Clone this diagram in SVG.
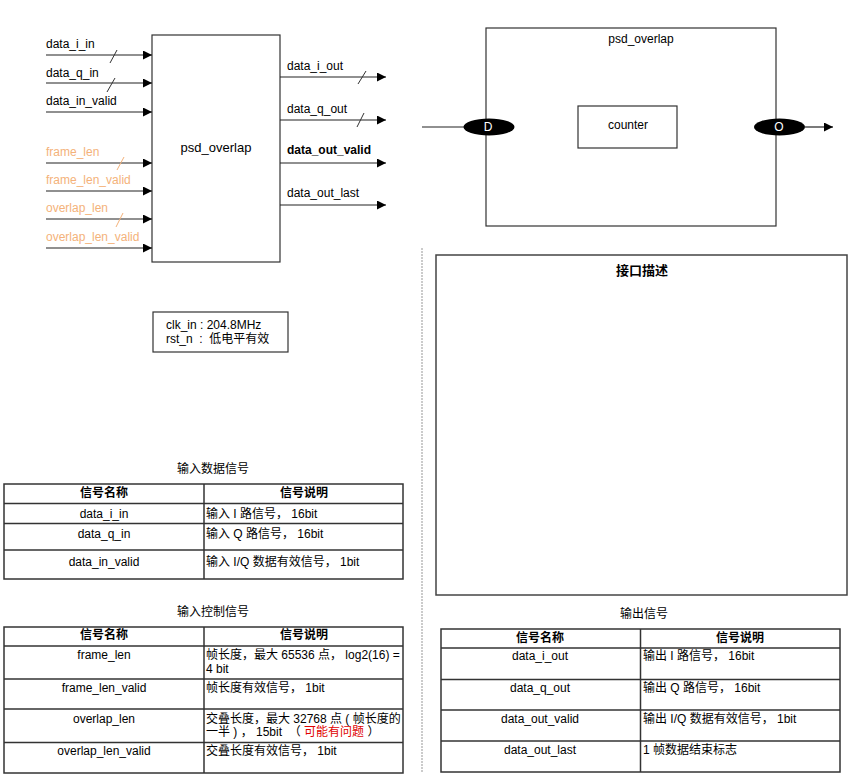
<svg xmlns="http://www.w3.org/2000/svg" width="851" height="782" viewBox="0 0 851 782">
<style>
text{font-family:"Liberation Sans","Noto Sans CJK SC",Arial,sans-serif;font-size:12px;fill:#000}
.c{text-anchor:middle}
.b{font-weight:bold}
.o{fill:#F4B27A}
.pre{white-space:pre}
.box{fill:#fff;stroke:#333;stroke-width:1.2}
.w{stroke:#222;stroke-width:1.2;fill:none}
.sl{stroke:#333;stroke-width:1}
.slo{stroke:#F4B27A;stroke-width:1}
.tb{fill:none;stroke:#333;stroke-width:1.5}
.tl{stroke:#333;stroke-width:1.5}
.red{fill:#E00000}
</style>
<defs>
<marker id="ar2" viewBox="0 0 10 10" refX="10" refY="5" markerWidth="9" markerHeight="9" markerUnits="userSpaceOnUse" orient="auto">
<path d="M0,0 L10,5 L0,10 z" fill="#000"/>
</marker>
</defs>

<g id="block">
<rect class="box" x="152" y="35" width="128" height="227"/>
<text class="c" x="216" y="152" style="font-size:13px">psd_overlap</text>
</g>

<g id="connectors">
<line class="w" x1="46" y1="55" x2="152" y2="55" marker-end="url(#ar2)"/>
<line class="w" x1="46" y1="83" x2="152" y2="83" marker-end="url(#ar2)"/>
<line class="w" x1="46" y1="112" x2="152" y2="112" marker-end="url(#ar2)"/>
<line class="w" x1="46" y1="163" x2="152" y2="163" marker-end="url(#ar2)"/>
<line class="w" x1="46" y1="191" x2="152" y2="191" marker-end="url(#ar2)"/>
<line class="w" x1="46" y1="219" x2="152" y2="219" marker-end="url(#ar2)"/>
<line class="w" x1="46" y1="248" x2="152" y2="248" marker-end="url(#ar2)"/>
<line class="w" x1="280" y1="77" x2="386" y2="77" marker-end="url(#ar2)"/>
<line class="w" x1="280" y1="120" x2="386" y2="120" marker-end="url(#ar2)"/>
<line class="w" x1="280" y1="163" x2="386" y2="163" marker-end="url(#ar2)"/>
<line class="w" x1="280" y1="205" x2="386" y2="205" marker-end="url(#ar2)"/>
<line class="sl" x1="110" y1="63" x2="117" y2="50"/>
<line class="sl" x1="107" y1="92" x2="115" y2="78"/>
<line class="slo" x1="117" y1="170" x2="124" y2="157"/>
<line class="slo" x1="116" y1="227" x2="123" y2="213"/>
<line class="sl" x1="358" y1="84" x2="366" y2="71"/>
<line class="sl" x1="357" y1="127" x2="364" y2="113"/>
<line class="w" x1="422" y1="127" x2="464" y2="127"/>
<line class="w" x1="514" y1="127" x2="577" y2="127" marker-end="url(#ar2)"/>
<line class="w" x1="677" y1="127" x2="754" y2="127"/>
<line class="w" x1="805" y1="127" x2="833" y2="127" marker-end="url(#ar2)"/>
</g>

<g id="labels">
<text x="46" y="48">data_i_in</text>
<text x="46" y="77">data_q_in</text>
<text x="46" y="105">data_in_valid</text>
<text class="o" x="46" y="156">frame_len</text>
<text class="o" x="46" y="184">frame_len_valid</text>
<text class="o" x="46" y="212">overlap_len</text>
<text class="o" x="46" y="241">overlap_len_valid</text>
<text x="287" y="70">data_i_out</text>
<text x="287" y="113">data_q_out</text>
<text class="b" x="287" y="154">data_out_valid</text>
<text x="287" y="197">data_out_last</text>
</g>

<g id="psd_overlap_inner">
<rect class="box" x="486" y="28" width="290" height="198"/>
<text class="c" x="641" y="43">psd_overlap</text>
</g>
<g id="counter">
<rect class="box" x="578" y="106" width="99" height="42"/>
<text class="c" x="628" y="129">counter</text>
</g>
<g id="port_D">
<ellipse cx="489" cy="127" rx="25.5" ry="8.5" fill="#000"/>
<text class="c" x="488" y="131" style="fill:#fff">D</text>
</g>
<g id="port_O">
<ellipse cx="779.5" cy="127" rx="25.5" ry="8.5" fill="#000"/>
<text class="c" x="779" y="131" style="fill:#fff">O</text>
</g>

<g id="clk">
<rect class="box" x="153" y="312" width="135" height="40"/>
<text x="166" y="329">clk_in : 204.8MHz</text>
<text class="pre" x="166" y="343">rst_n  :  低电平有效</text>
</g>

<line id="divider" x1="422" y1="248" x2="422" y2="773" stroke="#bbb" stroke-width="1.5" stroke-dasharray="2,1"/>

<g id="iface">
<rect x="436" y="255" width="411" height="340" fill="#fff" stroke="#444" stroke-width="1.5"/>
<text class="c b" x="642" y="275" style="font-size:13px">接口描述</text>
</g>

<g id="table_in_data">
<text class="c" x="213" y="473">输入数据信号</text>
<rect class="tb" x="4" y="484" width="399" height="95"/>
<line class="tl" x1="4" y1="503.5" x2="403" y2="503.5"/>
<line class="tl" x1="4" y1="523.5" x2="403" y2="523.5"/>
<line class="tl" x1="4" y1="550" x2="403" y2="550"/>
<line class="tl" x1="204" y1="484" x2="204" y2="579"/>
<text class="c b" x="104" y="497">信号名称</text>
<text class="c b" x="304" y="497">信号说明</text>
<text class="c" x="104" y="518">data_i_in</text>
<text class="pre" x="206" y="518">输入 I 路信号， 16bit</text>
<text class="c" x="104" y="538">data_q_in</text>
<text class="pre" x="206" y="538">输入 Q 路信号， 16bit</text>
<text class="c" x="104" y="566">data_in_valid</text>
<text class="pre" x="206" y="566">输入 I/Q 数据有效信号， 1bit</text>
</g>

<g id="table_in_ctrl">
<text class="c" x="213" y="616">输入控制信号</text>
<rect class="tb" x="4" y="627" width="399" height="146"/>
<line class="tl" x1="4" y1="646" x2="403" y2="646"/>
<line class="tl" x1="4" y1="679" x2="403" y2="679"/>
<line class="tl" x1="4" y1="709" x2="403" y2="709"/>
<line class="tl" x1="4" y1="742.5" x2="403" y2="742.5"/>
<line class="tl" x1="204" y1="627" x2="204" y2="773"/>
<text class="c b" x="104" y="639">信号名称</text>
<text class="c b" x="304" y="639">信号说明</text>
<text class="c" x="104" y="659">frame_len</text>
<text class="pre" x="206" y="659">帧长度，最大 65536 点， log2(16) =</text>
<text x="206" y="673">4 bit</text>
<text class="c" x="104" y="692">frame_len_valid</text>
<text class="pre" x="206" y="692">帧长度有效信号， 1bit</text>
<text class="c" x="104" y="723">overlap_len</text>
<text class="pre" x="206" y="723">交叠长度，最大 32768 点 ( 帧长度的</text>
<text class="pre" x="206" y="736">一半 ) ， 15bit  （ <tspan class="red">可能有问题</tspan> ）</text>
<text class="c" x="104" y="755">overlap_len_valid</text>
<text class="pre" x="206" y="755">交叠长度有效信号， 1bit</text>
</g>

<g id="table_out">
<text class="c" x="644" y="618">输出信号</text>
<rect class="tb" x="441" y="629" width="399" height="143"/>
<line class="tl" x1="441" y1="648" x2="840" y2="648"/>
<line class="tl" x1="441" y1="679.5" x2="840" y2="679.5"/>
<line class="tl" x1="441" y1="710" x2="840" y2="710"/>
<line class="tl" x1="441" y1="741" x2="840" y2="741"/>
<line class="tl" x1="640.5" y1="629" x2="640.5" y2="772"/>
<text class="c b" x="540" y="642">信号名称</text>
<text class="c b" x="740" y="642">信号说明</text>
<text class="c" x="540" y="660">data_i_out</text>
<text class="pre" x="643" y="660">输出 I 路信号， 16bit</text>
<text class="c" x="540" y="692">data_q_out</text>
<text class="pre" x="643" y="692">输出 Q 路信号， 16bit</text>
<text class="c" x="540" y="723">data_out_valid</text>
<text class="pre" x="643" y="723">输出 I/Q 数据有效信号， 1bit</text>
<text class="c" x="540" y="754">data_out_last</text>
<text class="pre" x="643" y="754">1 帧数据结束标志</text>
</g>
</svg>
